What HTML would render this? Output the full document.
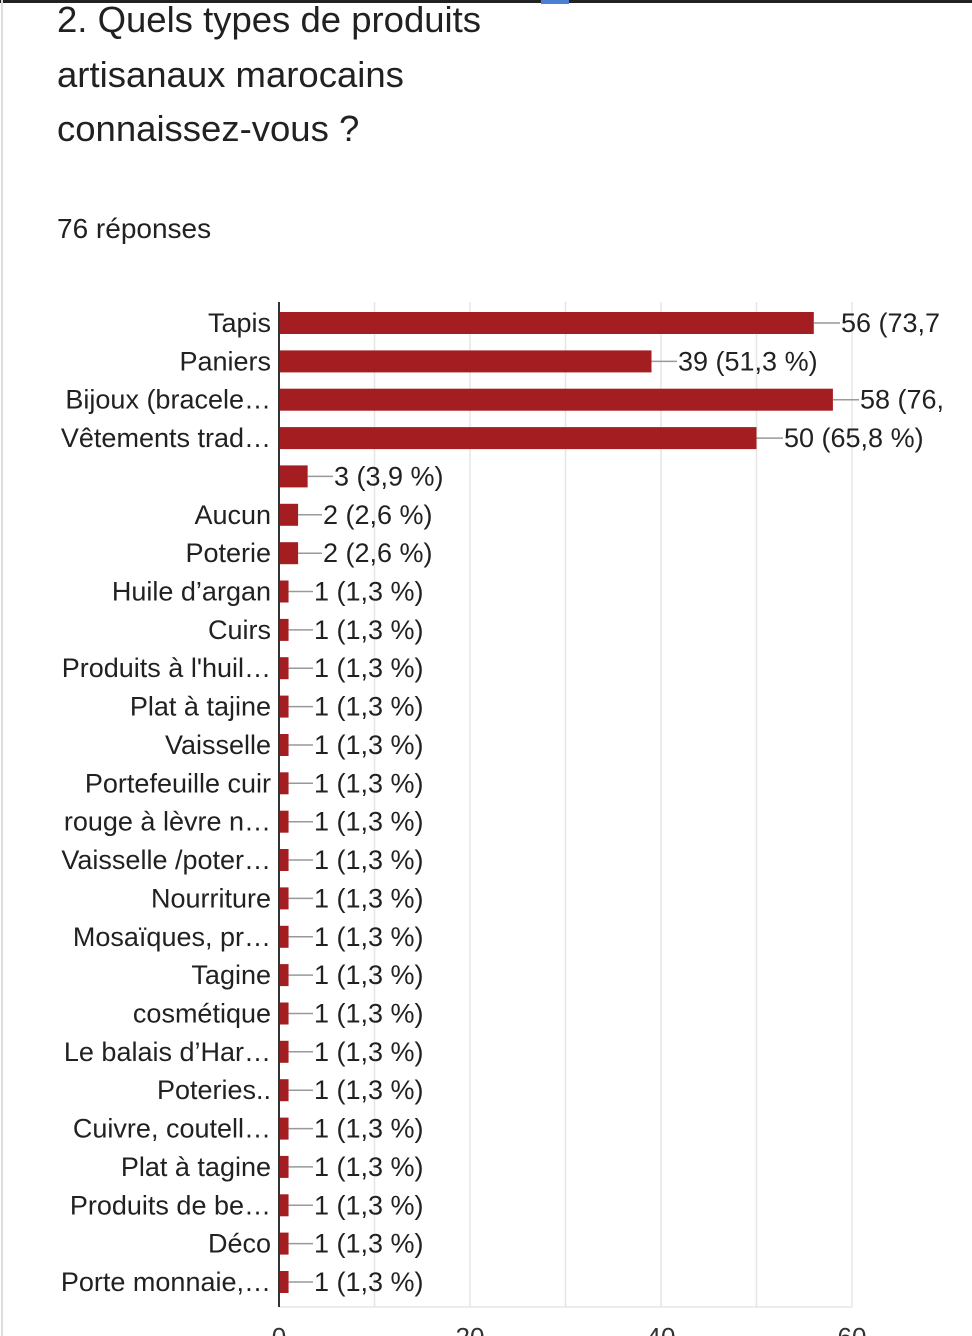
<!DOCTYPE html>
<html><head><meta charset="utf-8"><style>
html,body{margin:0;padding:0;background:#fff;width:972px;height:1336px;overflow:hidden}
</style></head><body>
<svg width="972" height="1336" xmlns="http://www.w3.org/2000/svg" font-family="Liberation Sans, Arial, sans-serif">
<rect x="0" y="0" width="972" height="3" fill="#222"/>
<rect x="1" y="0" width="2" height="1336" fill="#ddd"/>
<rect x="541" y="0" width="28" height="4" fill="#4a7fd4"/>
<g fill="#212121" font-size="36.5">
<text x="57" y="32">2. Quels types de produits</text>
<text x="57" y="87">artisanaux marocains</text>
<text x="57" y="141">connaissez-vous ?</text>
</g>
<text x="57" y="238" font-size="28" fill="#212121">76 réponses</text>
<g stroke="#e6e6e6" stroke-width="1.5">
<line x1="374.5" y1="302" x2="374.5" y2="1307"/>
<line x1="470" y1="302" x2="470" y2="1307"/>
<line x1="565.5" y1="302" x2="565.5" y2="1307"/>
<line x1="661" y1="302" x2="661" y2="1307"/>
<line x1="756.5" y1="302" x2="756.5" y2="1307"/>
<line x1="852" y1="302" x2="852" y2="1307"/>
<line x1="279" y1="1307" x2="852" y2="1307"/>
</g>
<g font-size="27" fill="#212121">
<g transform="translate(0,323)"><text x="271" y="9" text-anchor="end">Tapis</text><rect x="279" y="-11" width="534.8" height="22" fill="#a31d21"/><line x1="813.8" y1="0" x2="840" y2="0" stroke="#999" stroke-width="1.5"/><text x="841" y="9">56 (73,7</text></g>
<g transform="translate(0,361.4)"><text x="271" y="9" text-anchor="end">Paniers</text><rect x="279" y="-11" width="372.5" height="22" fill="#a31d21"/><line x1="651.5" y1="0" x2="677" y2="0" stroke="#999" stroke-width="1.5"/><text x="678" y="9">39 (51,3 %)</text></g>
<g transform="translate(0,399.7)"><text x="271" y="9" text-anchor="end">Bijoux (bracele…</text><rect x="279" y="-11" width="553.9" height="22" fill="#a31d21"/><line x1="832.9" y1="0" x2="859" y2="0" stroke="#999" stroke-width="1.5"/><text x="860" y="9">58 (76,</text></g>
<g transform="translate(0,438.1)"><text x="271" y="9" text-anchor="end">Vêtements trad…</text><rect x="279" y="-11" width="477.5" height="22" fill="#a31d21"/><line x1="756.5" y1="0" x2="783" y2="0" stroke="#999" stroke-width="1.5"/><text x="784" y="9">50 (65,8 %)</text></g>
<g transform="translate(0,476.4)"><rect x="279" y="-11" width="28.65" height="22" fill="#a31d21"/><line x1="307.65" y1="0" x2="333" y2="0" stroke="#999" stroke-width="1.5"/><text x="334" y="9">3 (3,9 %)</text></g>
<g transform="translate(0,514.8)"><text x="271" y="9" text-anchor="end">Aucun</text><rect x="279" y="-11" width="19.1" height="22" fill="#a31d21"/><line x1="298.1" y1="0" x2="322" y2="0" stroke="#999" stroke-width="1.5"/><text x="323" y="9">2 (2,6 %)</text></g>
<g transform="translate(0,553.2)"><text x="271" y="9" text-anchor="end">Poterie</text><rect x="279" y="-11" width="19.1" height="22" fill="#a31d21"/><line x1="298.1" y1="0" x2="322" y2="0" stroke="#999" stroke-width="1.5"/><text x="323" y="9">2 (2,6 %)</text></g>
</g>
<defs>
<g id="one"><rect x="279" y="-11" width="9.55" height="22" fill="#a31d21"/><line x1="288.55" y1="0" x2="313" y2="0" stroke="#999" stroke-width="1.5"/><text x="314" y="9" font-size="27" fill="#212121" text-anchor="start">1 (1,3 %)</text></g>
</defs>
<g font-size="27" fill="#212121">
<g transform="translate(0,591.5)"><use href="#one"/><text x="271" y="9" text-anchor="end">Huile d’argan</text></g>
<g transform="translate(0,629.9)"><use href="#one"/><text x="271" y="9" text-anchor="end">Cuirs</text></g>
<g transform="translate(0,668.2)"><use href="#one"/><text x="271" y="9" text-anchor="end">Produits à l'huil…</text></g>
<g transform="translate(0,706.6)"><use href="#one"/><text x="271" y="9" text-anchor="end">Plat à tajine</text></g>
<g transform="translate(0,745)"><use href="#one"/><text x="271" y="9" text-anchor="end">Vaisselle</text></g>
<g transform="translate(0,783.3)"><use href="#one"/><text x="271" y="9" text-anchor="end">Portefeuille cuir</text></g>
<g transform="translate(0,821.7)"><use href="#one"/><text x="271" y="9" text-anchor="end">rouge à lèvre n…</text></g>
<g transform="translate(0,860)"><use href="#one"/><text x="271" y="9" text-anchor="end">Vaisselle /poter…</text></g>
<g transform="translate(0,898.4)"><use href="#one"/><text x="271" y="9" text-anchor="end">Nourriture</text></g>
<g transform="translate(0,936.8)"><use href="#one"/><text x="271" y="9" text-anchor="end">Mosaïques, pr…</text></g>
<g transform="translate(0,975.1)"><use href="#one"/><text x="271" y="9" text-anchor="end">Tagine</text></g>
<g transform="translate(0,1013.5)"><use href="#one"/><text x="271" y="9" text-anchor="end">cosmétique</text></g>
<g transform="translate(0,1051.8)"><use href="#one"/><text x="271" y="9" text-anchor="end">Le balais d’Har…</text></g>
<g transform="translate(0,1090.2)"><use href="#one"/><text x="271" y="9" text-anchor="end">Poteries..</text></g>
<g transform="translate(0,1128.6)"><use href="#one"/><text x="271" y="9" text-anchor="end">Cuivre, coutell…</text></g>
<g transform="translate(0,1166.9)"><use href="#one"/><text x="271" y="9" text-anchor="end">Plat à tagine</text></g>
<g transform="translate(0,1205.3)"><use href="#one"/><text x="271" y="9" text-anchor="end">Produits de be…</text></g>
<g transform="translate(0,1243.6)"><use href="#one"/><text x="271" y="9" text-anchor="end">Déco</text></g>
<g transform="translate(0,1282)"><use href="#one"/><text x="271" y="9" text-anchor="end">Porte monnaie,…</text></g>
</g>
<line x1="279" y1="302" x2="279" y2="1307" stroke="#333" stroke-width="2"/>
<g font-size="26" fill="#333" text-anchor="middle">
<text x="279" y="1346">0</text><text x="470" y="1346">20</text><text x="661" y="1346">40</text><text x="852" y="1346">60</text>
</g>
</svg>
</body></html>
